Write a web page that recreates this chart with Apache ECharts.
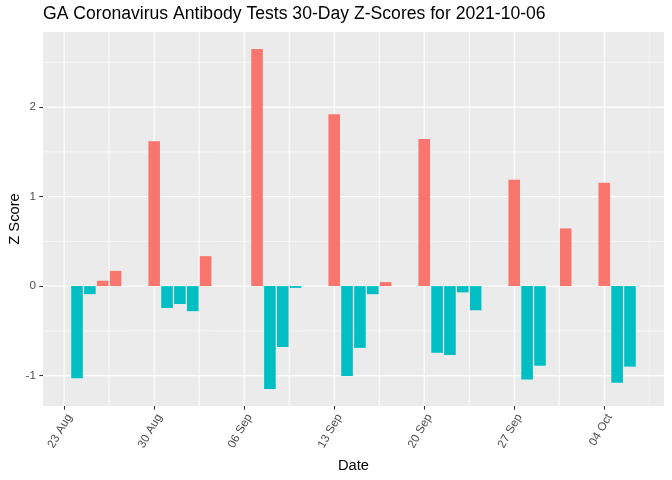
<!DOCTYPE html>
<html><head><meta charset="utf-8">
<script src="https://cdn.jsdelivr.net/npm/echarts@6/dist/echarts.min.js"></script>
<style>html,body{margin:0;padding:0;background:#fff}#c{width:672px;height:480px}</style>
</head><body><div id="c"></div>
<script>
const titleText = "GA Coronavirus Antibody Tests 30-Day Z-Scores for 2021-10-06";
const dates = ["2021-08-24","2021-08-25","2021-08-26","2021-08-27",
  "2021-08-30","2021-08-31","2021-09-01","2021-09-02","2021-09-03",
  "2021-09-07","2021-09-08","2021-09-09","2021-09-10",
  "2021-09-13","2021-09-14","2021-09-15","2021-09-16","2021-09-17",
  "2021-09-20","2021-09-21","2021-09-22","2021-09-23","2021-09-24",
  "2021-09-27","2021-09-28","2021-09-29","2021-10-01",
  "2021-10-04","2021-10-05","2021-10-06"];
const zScores = [-1.03,-0.09,0.06,0.17,
  1.62,-0.245,-0.20,-0.28,0.335,
  2.65,-1.15,-0.68,-0.02,
  1.92,-1.005,-0.69,-0.09,0.045,
  1.645,-0.745,-0.77,-0.07,-0.27,
  1.19,-1.045,-0.89,0.645,
  1.155,-1.08,-0.90];
const xTickDates = ["2021-08-23","2021-08-30","2021-09-06","2021-09-13","2021-09-20","2021-09-27","2021-10-04"];
const xTickLabels = ["23 Aug","30 Aug","06 Sep","13 Sep","20 Sep","27 Sep","04 Oct"];
const yTicks = [-1,0,1,2];
const yMinorTicks = [-0.5,0.5,1.5,2.5];

const DAY = 86400000;
const origin = Date.parse(xTickDates[0] + "T00:00:00Z");
const toDay = s => (Date.parse(s + "T00:00:00Z") - origin) / DAY;
const xs = dates.map(toDay);
const majorX = xTickDates.map(toDay);
const labelMap = {};
majorX.forEach((v, i) => { labelMap[v] = xTickLabels[i]; });

// ggplot-like expansion (5%) around bar extents (width 0.9)
const dLo = Math.min(...xs) - 0.45, dHi = Math.max(...xs) + 0.45;
const xMin = dLo - 0.05 * (dHi - dLo), xMax = dHi + 0.05 * (dHi - dLo);
const vLo = Math.min(0, ...zScores), vHi = Math.max(0, ...zScores);
const yMin = vLo - 0.05 * (vHi - vLo), yMax = vHi + 0.05 * (vHi - vLo);
const minorX = majorX.map(v => v + 3.5).concat(majorX.map(v => v - 3.5)).filter(v => v > xMin && v < xMax);

const gridLeft = 43, gridRight = 8, gridTop = 32, gridBottom = 74;
const plotW = 672 - gridLeft - gridRight;
const barW = 0.9 * plotW / (xMax - xMin);

const RED = "#F8766D", TEAL = "#00BFC4";
const FONT = "Liberation Sans, Arial, sans-serif";

function vLines(vals, width) {
  return {
    type: 'custom', xAxisIndex: 0, yAxisIndex: 0, silent: true, z: 1,
    data: vals.map(v => [v, 0]),
    renderItem: (params, api) => {
      const p1 = api.coord([api.value(0), yMin]);
      const p2 = api.coord([api.value(0), yMax]);
      return {type: 'line', shape: {x1: p1[0], y1: p1[1], x2: p2[0], y2: p2[1]},
        style: {stroke: '#FFFFFF', lineWidth: width}};
    }
  };
}
function hLines(vals, width) {
  return {
    type: 'custom', xAxisIndex: 0, yAxisIndex: 0, silent: true, z: 1,
    data: vals.map(v => [0, v]),
    renderItem: (params, api) => {
      const p1 = api.coord([xMin, api.value(1)]);
      const p2 = api.coord([xMax, api.value(1)]);
      return {type: 'line', shape: {x1: p1[0], y1: p1[1], x2: p2[0], y2: p2[1]},
        style: {stroke: '#FFFFFF', lineWidth: width}};
    }
  };
}

const chart = echarts.init(document.getElementById('c'), null, {renderer: 'canvas'});
chart.setOption({
  animation: false,
  backgroundColor: '#FFFFFF',
  title: {
    text: titleText, left: 43, top: 5, padding: 0,
    textStyle: {fontFamily: FONT, fontSize: 17.6, fontWeight: 'normal', color: '#000'}
  },
  grid: {left: gridLeft, right: gridRight, top: gridTop, bottom: gridBottom,
    show: true, backgroundColor: '#EBEBEB', borderWidth: 0, containLabel: false,
    outerBoundsMode: 'none'},
  xAxis: {
    type: 'value', min: xMin, max: xMax, position: 'bottom',
    name: 'Date', nameLocation: 'middle', nameGap: 52, nameMoveOverlap: false,
    nameTextStyle: {fontFamily: FONT, fontSize: 14.7, color: '#000'},
    axisLine: {show: false, onZero: false},
    axisTick: {show: true, length: 3.7, lineStyle: {color: '#333333', width: 1.1}, customValues: majorX},
    axisLabel: {show: true, customValues: majorX, rotate: 60, margin: 6,
      align: 'right', verticalAlign: 'top',
      fontFamily: FONT, fontSize: 11.7, color: '#4D4D4D',
      formatter: v => labelMap[v] !== undefined ? labelMap[v] : ''},
    splitLine: {show: false},
    minorTick: {show: false}, minorSplitLine: {show: false}
  },
  yAxis: {
    type: 'value', min: yMin, max: yMax, position: 'left',
    name: 'Z Score', nameLocation: 'middle', nameGap: 21, nameRotate: 90, nameMoveOverlap: false,
    nameTextStyle: {fontFamily: FONT, fontSize: 14.7, color: '#000'},
    axisLine: {show: false, onZero: false},
    axisTick: {show: true, length: 3.7, lineStyle: {color: '#333333', width: 1.1}, customValues: yTicks},
    axisLabel: {show: true, customValues: yTicks, margin: 7,
      fontFamily: FONT, fontSize: 11.7, color: '#4D4D4D'},
    splitLine: {show: false}
  },
  series: [
    hLines(yMinorTicks, 0.55),
    vLines(minorX, 0.55),
    hLines(yTicks, 1.1),
    vLines(majorX, 1.1),
    {
      type: 'bar', xAxisIndex: 0, yAxisIndex: 0,
      barWidth: barW,
      data: xs.map((x, i) => ({value: [x, zScores[i]],
        itemStyle: {color: zScores[i] > 0 ? RED : TEAL}})),
      z: 5
    }
  ]
});
</script></body></html>
